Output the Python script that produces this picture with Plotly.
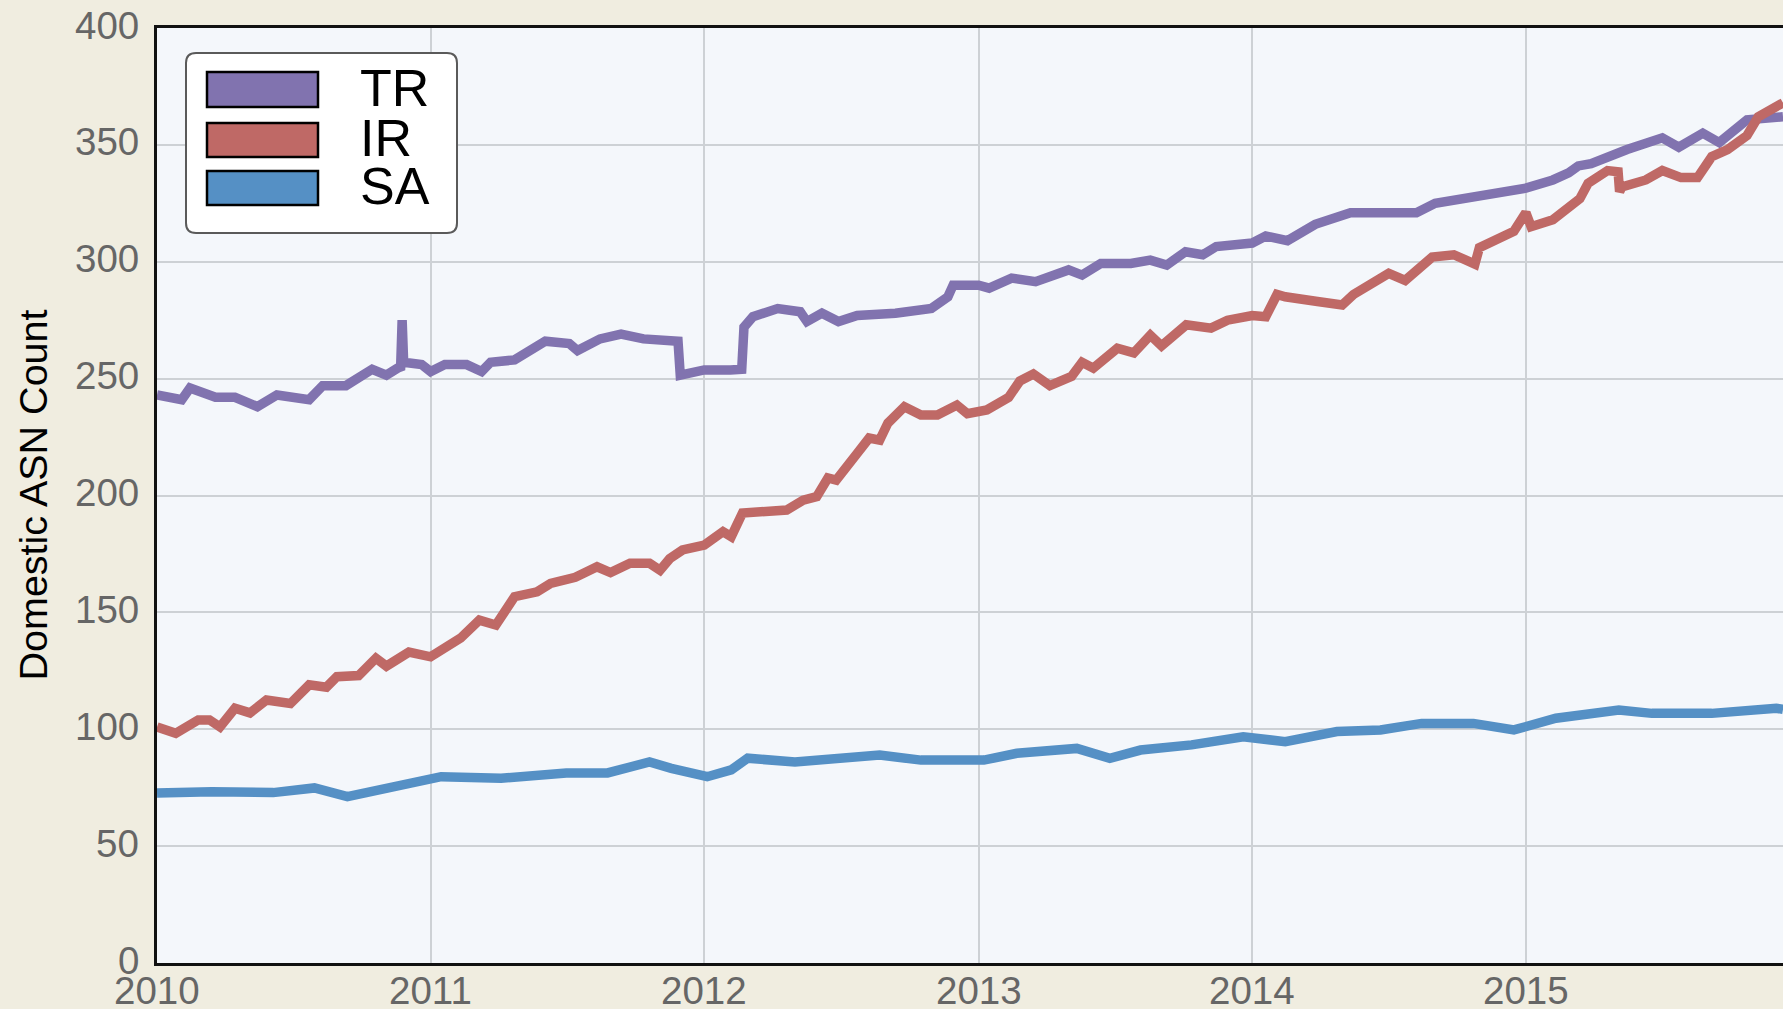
import plotly.graph_objects as go

# ---------------- data ----------------
tr_dates = ["2010-01-01","2010-02-03","2010-02-14","2010-03-20","2010-04-15","2010-05-15","2010-06-10",
            "2010-07-23","2010-08-10","2010-09-10","2010-10-15","2010-11-03","2010-11-18","2010-11-22",
            "2010-11-24","2010-11-26","2010-12-20","2011-01-01","2011-01-20","2011-02-18","2011-03-10",
            "2011-03-22","2011-04-23","2011-05-12","2011-06-03","2011-07-05","2011-07-16","2011-08-15",
            "2011-09-12","2011-10-12","2011-11-16","2011-11-27","2011-11-30","2012-01-01","2012-02-05",
            "2012-02-20","2012-02-23","2012-03-06","2012-04-08","2012-05-08","2012-05-17","2012-06-06",
            "2012-06-28","2012-07-23","2012-09-12","2012-10-30","2012-11-21","2012-11-28","2013-01-01",
            "2013-01-15","2013-02-14","2013-03-18","2013-05-01","2013-05-19","2013-06-13","2013-07-23",
            "2013-08-18","2013-09-09","2013-10-04","2013-10-27","2013-11-14","2014-01-01","2014-01-19",
            "2014-02-17","2014-03-26","2014-05-12","2014-06-03","2014-08-08","2014-09-02","2014-10-27",
            "2014-12-02","2015-01-01","2015-02-06","2015-02-27","2015-03-12","2015-03-29","2015-05-16",
            "2015-07-02","2015-07-24","2015-08-25","2015-09-16","2015-10-23","2015-12-10"]
tr_values = [243, 241, 246, 242, 242, 238, 243,
             241, 247, 247, 254, 251.5, 254.5, 255,
             275, 257, 256, 253, 256, 256, 253,
             257, 258, 262, 266, 265, 262, 267,
             269, 267, 266, 266, 251.5, 253.7, 253.7,
             254, 272, 276.5, 280, 278.6, 274.4, 278,
             274.4, 277, 278, 280, 285, 290, 290,
             288.7, 293, 291.5, 296.5, 294.3, 299.3, 299.3,
             300.7, 298.6, 304.3, 303, 306.5, 308, 311,
             309, 316, 321, 321, 321, 325, 328,
             330, 331.5, 335, 338, 341, 342, 348,
             353, 349, 355, 351, 360.7, 362]

ir_dates = ["2010-01-01","2010-01-26","2010-02-25","2010-03-12","2010-03-26","2010-04-15","2010-05-05",
            "2010-05-27","2010-06-28","2010-07-23","2010-08-15","2010-08-29","2010-09-27","2010-10-20",
            "2010-11-03","2010-12-03","2011-01-01","2011-01-19","2011-02-10","2011-03-07","2011-03-29",
            "2011-04-23","2011-05-23","2011-06-10","2011-07-13","2011-08-11","2011-08-29","2011-09-24",
            "2011-10-20","2011-11-03","2011-11-16","2011-12-03","2012-01-01","2012-01-26","2012-02-06",
            "2012-02-21","2012-03-18","2012-04-20","2012-05-12","2012-05-30","2012-06-14","2012-06-25",
            "2012-07-23","2012-08-08","2012-08-22","2012-09-02","2012-09-24","2012-10-16","2012-11-07",
            "2012-12-03","2012-12-17","2013-01-12","2013-02-10","2013-02-25","2013-03-15","2013-04-06",
            "2013-05-05","2013-05-19","2013-06-03","2013-07-05","2013-07-27","2013-08-18","2013-09-02",
            "2013-10-05","2013-11-07","2013-11-29","2014-01-01","2014-01-19","2014-02-03","2014-02-14",
            "2014-03-29","2014-05-01","2014-05-16","2014-06-10","2014-07-02","2014-07-24","2014-08-18",
            "2014-08-29","2014-09-27","2014-10-25","2014-10-31","2014-11-18","2014-12-16","2015-01-01",
            "2015-01-08","2015-02-06","2015-02-21","2015-03-14","2015-03-25","2015-04-20","2015-05-04",
            "2015-05-06","2015-05-09","2015-06-10","2015-07-02","2015-07-27","2015-08-18","2015-09-06",
            "2015-09-27","2015-10-23","2015-11-07","2015-12-10"]
ir_values = [101, 98.3, 104, 104, 101, 109, 107,
             112.5, 111, 119, 118, 122.5, 123, 130.4,
             127, 133, 131, 135, 139, 146.7, 144.6,
             156.7, 158.8, 162.4, 165, 169.5, 167, 171,
             171, 168, 173, 176.7, 178.8, 184.5, 182.4,
             192.5, 193, 193.8, 198, 199.5, 207.5, 206.6,
             218, 224.6, 223.7, 231, 238, 234.4, 234.4,
             238.7, 235, 236.6, 242, 249, 252, 247,
             251, 257, 254.5, 263, 261, 268.6, 264,
             273, 271.6, 275, 277, 276.5, 286, 285,
             283, 281.5, 286, 291, 295, 292, 299.5,
             302, 303, 299, 306, 309, 313, 321,
             315, 318, 322, 327, 333.6, 339, 338.5,
             330, 332, 335, 339, 336, 336, 345,
             348, 354, 362, 368]

sa_dates = ["2010-01-01","2010-03-15","2010-06-05","2010-07-30","2010-09-12","2010-11-06","2011-01-15",
            "2011-04-05","2011-07-01","2011-08-25","2011-10-20","2011-11-18","2012-01-05","2012-02-06",
            "2012-02-28","2012-05-01","2012-08-22","2012-10-16","2013-01-08","2013-02-21","2013-05-12",
            "2013-06-25","2013-08-05","2013-10-12","2013-12-20","2014-02-14","2014-04-24","2014-06-21",
            "2014-08-15","2014-10-23","2014-12-16","2015-02-10","2015-05-05","2015-06-18","2015-09-06",
            "2015-12-01","2015-12-10"]
sa_values = [72.7, 73.3, 72.9, 74.9, 71.2, 74.9, 79.7,
             79, 81.3, 81.3, 86, 83.3, 79.7, 82.6,
             87.6, 86, 89, 86.8, 86.8, 89.7, 91.8,
             87.6, 91.1, 93.3, 96.8, 94.7, 99, 99.7,
             102.5, 102.5, 99.7, 104.7, 108.2, 106.8, 106.8,
             109, 108.5]

series_names = ["TR", "IR", "SA"]
series_colors = ["#8173AF", "#BF6966", "#5590C5"]
y_ticks = [0, 50, 100, 150, 200, 250, 300, 350, 400]
x_ticks = ["2010-01-01", "2011-01-01", "2012-01-01", "2013-01-01", "2014-01-01", "2015-01-01"]
x_tick_labels = ["2010", "2011", "2012", "2013", "2014", "2015"]
y_title = "Domestic ASN Count"

# ---------------- figure ----------------
W, H = 1783, 1009
L, R, T, B = 157, 0, 28, 46
PW, PH = W - L - R, H - T - B
FONT = "Liberation Sans, Arial, Helvetica, sans-serif"
PAPER = "#F0EDE0"
TICKCOL = "#666666"

fig = go.Figure()
for name, xs, ys, col in zip(series_names, [tr_dates, ir_dates, sa_dates],
                             [tr_values, ir_values, sa_values], series_colors):
    fig.add_trace(go.Scatter(x=xs, y=ys, mode="lines", name=name,
                             line=dict(color=col, width=9.5), showlegend=False))

def px(x):
    return (x - L) / PW

def py(y):
    return (T + PH - y) / PH

shapes = []
# legend frame with rounded corners
x0, x1, y0, y1 = px(186), px(457), py(233), py(53)
rx, ry = 10 / PW, 10 / PH
path = (f"M{x0+rx},{y0} L{x1-rx},{y0} Q{x1},{y0} {x1},{y0+ry} L{x1},{y1-ry} Q{x1},{y1} {x1-rx},{y1} "
        f"L{x0+rx},{y1} Q{x0},{y1} {x0},{y1-ry} L{x0},{y0+ry} Q{x0},{y0} {x0+rx},{y0} Z")
shapes.append(dict(type="path", xref="paper", yref="paper", path=path,
                   fillcolor="white", line=dict(color="#5a5a5a", width=2), layer="above"))
rows = [(72, 107), (123, 157), (171, 205)]
annotations = []
for (top, bot), name, col in zip(rows, series_names, series_colors):
    shapes.append(dict(type="rect", xref="paper", yref="paper",
                       x0=px(207), x1=px(318), y0=py(bot), y1=py(top),
                       fillcolor=col, line=dict(color="black", width=2.5), layer="above"))
    annotations.append(dict(xref="paper", yref="paper", x=px(358), y=py((top + bot) / 2),
                            xanchor="left", yanchor="middle", yshift=2, text=name, showarrow=False,
                            font=dict(family=FONT, size=52, color="black")))
annotations.append(dict(xref="paper", yref="paper", x=0, y=0.5, xanchor="center", yanchor="middle",
                        xshift=-125, textangle=-90, text=y_title, showarrow=False,
                        font=dict(family=FONT, size=39.5, color="black")))
# x tick labels (placed at the tick dates through the x scale)
for xv, lab in zip(x_ticks, x_tick_labels):
    annotations.append(dict(xref="x", yref="paper", x=xv, y=0, xanchor="center", yanchor="middle",
                            yshift=-27, text=lab, showarrow=False,
                            font=dict(family=FONT, size=38.5, color=TICKCOL)))
# y tick labels (placed at the tick values through the y scale)
for yv in y_ticks:
    annotations.append(dict(xref="paper", yref="y", x=0, y=yv, xanchor="right", yanchor="middle",
                            xshift=-16, yshift=3, text=str(yv), showarrow=False,
                            font=dict(family=FONT, size=38.5, color=TICKCOL)))

fig.update_layout(
    width=W, height=H,
    margin=dict(l=L, r=R, t=T, b=B, pad=0, autoexpand=False),
    paper_bgcolor=PAPER,
    plot_bgcolor="#F4F7FB",
    font=dict(family=FONT, color=TICKCOL),
    shapes=shapes,
    annotations=annotations,
    xaxis=dict(range=["2010-01-01", "2015-12-10"], tickvals=x_ticks, showticklabels=False,
               showgrid=True, gridcolor="#CDD1D5", gridwidth=1.5,
               showline=True, linecolor="#111111", linewidth=3, mirror=True,
               ticks="", automargin=False, zeroline=False),
    yaxis=dict(range=[0, 400], tickvals=y_ticks, showticklabels=False,
               showgrid=True, gridcolor="#CDD1D5", gridwidth=1.5,
               showline=True, linecolor="#111111", linewidth=3,
               ticks="", automargin=False, zeroline=False),
)

post = ("var de=document.documentElement, bd=document.body;"
        "de.style.margin='0';de.style.padding='0';de.style.overflow='hidden';de.style.height='1009px';"
        "bd.style.margin='0';bd.style.padding='0';bd.style.overflow='hidden';bd.style.height='1009px';"
        "bd.style.background='" + PAPER + "';de.style.background='" + PAPER + "';"
        "for (var c of bd.children){ if(c.tagName==='DIV'){c.style.height='1009px';c.style.overflow='hidden';} }")
fig.write_html("out.html", post_script=post, config={"responsive": False, "displayModeBar": False})
